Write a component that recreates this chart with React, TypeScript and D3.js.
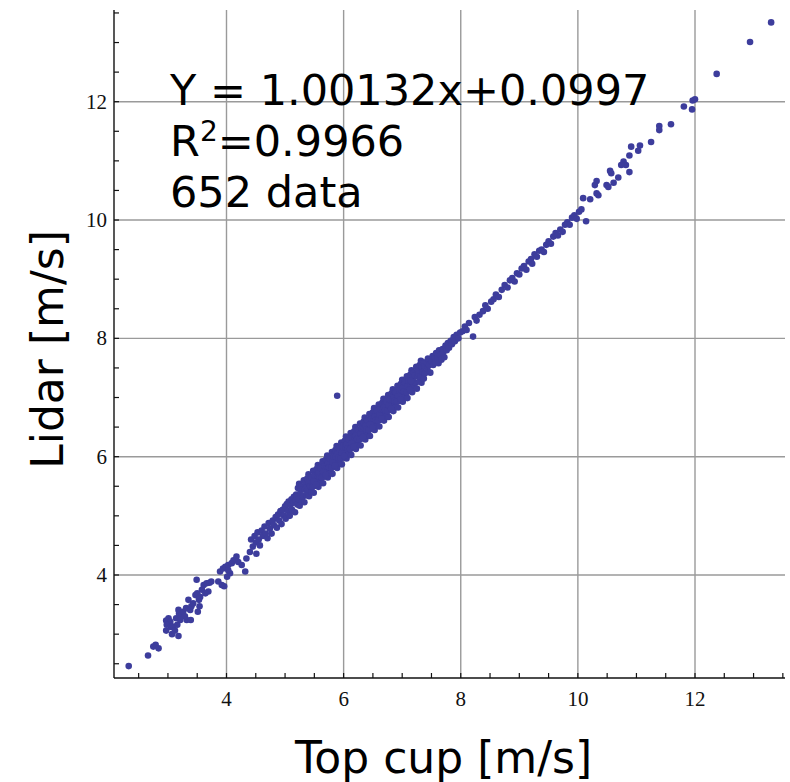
import React from "react";
import * as d3 from "d3";

// ---- data ----
const lowPoints: [number, number][] = [
  [2.33,2.46],[2.66,2.64],[2.75,2.79],[2.79,2.82],[2.84,2.76],
  [2.97,3.23],[3.01,3.27],[3.04,3.21],[2.98,3.16],[3.05,3.12],[3.09,3.13],[3.16,3.16],[3.18,2.97],[3.07,3.00],[2.97,3.06],
  [3.14,3.27],[3.19,3.35],[3.18,3.41],[3.23,3.32],[3.26,3.38],[3.31,3.44],[3.35,3.58],[3.32,3.24],[3.29,3.30],[3.38,3.41],
  [3.40,3.47],[3.43,3.52],[3.47,3.66],[3.50,3.69],[3.49,3.92],[3.53,3.58],[3.55,3.63],[3.58,3.75],[3.61,3.83],[3.66,3.86],
  [3.69,3.72],[3.71,3.87],[3.74,3.89],[3.64,3.69],[3.51,3.38],[3.54,3.47],[3.39,3.24],[3.21,3.24],[3.12,3.06],[3.86,3.89],
  [3.92,3.83],[3.96,3.81],[3.89,4.06],[3.94,4.11],[3.98,4.14],[4.03,4.17],[4.06,4.03],[4.09,4.20],[4.12,4.25],[4.17,4.31],
  [4.20,4.22],[4.26,4.17],[4.32,4.06],[4.34,4.28],[4.40,4.39],[4.51,4.36],[4.01,3.97],[4.03,4.08],
];

const midPoints: [number, number][] = [
  [4.42,4.60],[4.45,4.48],[4.48,4.66],[4.50,4.55],[4.53,4.72],[4.55,4.60],[4.57,4.50],[4.60,4.75],[4.62,4.66],[4.65,4.82],
  [4.67,4.70],[4.70,4.62],[4.72,4.88],[4.74,4.78],[4.77,4.70],[4.79,4.92],[4.81,4.84],[4.84,4.98],[4.86,4.80],[4.88,5.02],
  [4.90,4.92],[4.92,5.08],[4.94,4.86],[4.96,5.10],[4.98,5.00],[5.00,5.16],[5.01,4.95],[5.03,5.20],[5.05,5.08],[5.06,5.24],
  [5.08,5.00],[5.09,5.18],[5.11,5.28],[5.12,5.10],[5.14,5.22],[5.15,5.32],[5.17,5.06],[5.18,5.26],[5.19,5.36],
];

const densePoints: [number, number][] = [
  [5.20,5.32],[5.21,5.19],[5.22,5.47],[5.23,5.28],[5.24,5.54],[5.25,5.17],[5.26,5.44],[5.27,5.35],[5.28,5.50],[5.29,5.24],
  [5.30,5.45],[5.31,5.33],[5.32,5.60],[5.33,5.23],[5.34,5.44],[5.35,5.55],[5.36,5.48],[5.37,5.35],[5.38,5.63],[5.39,5.44],
  [5.40,5.70],[5.41,5.33],[5.42,5.60],[5.43,5.51],[5.44,5.66],[5.45,5.40],[5.46,5.61],[5.47,5.49],[5.48,5.76],[5.49,5.39],
  [5.50,5.60],[5.51,5.71],[5.52,5.64],[5.53,5.51],[5.54,5.79],[5.55,5.60],[5.56,5.86],[5.57,5.49],[5.58,5.76],[5.59,5.67],
  [5.60,5.82],[5.61,5.56],[5.62,5.77],[5.63,5.65],[5.64,5.92],[5.65,5.55],[5.66,5.76],[5.67,5.87],[5.68,5.80],[5.69,5.67],
  [5.70,5.95],[5.71,5.76],[5.72,6.02],[5.73,5.65],[5.74,5.92],[5.75,5.83],[5.76,5.98],[5.77,5.72],[5.78,5.93],[5.79,5.81],
  [5.80,6.08],[5.81,5.71],[5.82,5.92],[5.83,6.03],[5.84,5.96],[5.85,5.83],[5.86,6.11],[5.87,5.92],[5.88,6.18],[5.89,5.81],
  [5.90,6.08],[5.91,5.99],[5.92,6.14],[5.93,5.88],[5.94,6.09],[5.95,5.97],[5.96,6.24],[5.97,5.87],[5.98,6.08],[5.99,6.19],
  [6.00,6.12],[6.01,5.99],[6.02,6.27],[6.03,6.08],[6.04,6.34],[6.05,5.97],[6.06,6.24],[6.07,6.15],[6.08,6.30],[6.09,6.04],
  [6.10,6.25],[6.11,6.13],[6.12,6.40],[6.13,6.03],[6.14,6.24],[6.15,6.35],[6.16,6.28],[6.17,6.15],[6.18,6.43],[6.19,6.24],
  [6.20,6.50],[6.21,6.13],[6.22,6.40],[6.23,6.31],[6.24,6.46],[6.25,6.20],[6.26,6.41],[6.27,6.29],[6.28,6.56],[6.29,6.19],
  [6.30,6.40],[6.31,6.51],[6.32,6.44],[6.33,6.31],[6.34,6.59],[6.35,6.40],[6.36,6.66],[6.37,6.29],[6.38,6.56],[6.39,6.47],
  [6.40,6.62],[6.41,6.36],[6.42,6.57],[6.43,6.45],[6.44,6.72],[6.45,6.35],[6.46,6.56],[6.47,6.67],[6.48,6.60],[6.49,6.47],
  [6.50,6.75],[6.51,6.56],[6.52,6.82],[6.53,6.45],[6.54,6.72],[6.55,6.63],[6.56,6.78],[6.57,6.52],[6.58,6.73],[6.59,6.61],
  [6.60,6.88],[6.61,6.51],[6.62,6.72],[6.63,6.83],[6.64,6.76],[6.65,6.63],[6.66,6.91],[6.67,6.72],[6.68,6.98],[6.69,6.61],
  [6.70,6.88],[6.71,6.79],[6.72,6.94],[6.73,6.68],[6.74,6.89],[6.75,6.77],[6.76,7.04],[6.77,6.67],[6.78,6.88],[6.79,6.99],
  [6.80,6.92],[6.81,6.79],[6.82,7.07],[6.83,6.88],[6.84,7.14],[6.85,6.77],[6.86,7.04],[6.87,6.95],[6.88,7.10],[6.89,6.84],
  [6.90,7.05],[6.91,6.93],[6.92,7.20],[6.93,6.83],[6.94,7.04],[6.95,7.15],[6.96,7.08],[6.97,6.95],[6.98,7.23],[6.99,7.04],
  [7.00,7.30],[7.01,6.93],[7.02,7.20],[7.03,7.11],[7.04,7.26],[7.05,7.00],[7.06,7.21],[7.07,7.09],[7.08,7.36],[7.09,6.99],
  [7.10,7.20],[7.11,7.31],[7.12,7.24],[7.13,7.11],[7.14,7.39],[7.15,7.20],[7.16,7.46],[7.17,7.09],[7.18,7.36],[7.19,7.27],
  [7.20,7.42],[7.21,7.16],[7.22,7.37],[7.23,7.25],[7.24,7.52],[7.25,7.15],[7.26,7.36],[7.27,7.47],[7.28,7.40],[7.29,7.27],
  [7.30,7.55],[7.31,7.36],[7.32,7.62],[7.33,7.25],[7.34,7.52],[7.35,7.43],[7.36,7.58],[7.37,7.32],[7.38,7.53],[7.39,7.41],
];

const coreBand: [number, number][] = [
  [5.41,5.56],[5.43,5.50],[5.45,5.65],[5.47,5.49],[5.49,5.59],[5.51,5.68],[5.53,5.53],[5.55,5.68],[5.57,5.72],[5.59,5.66],
  [5.61,5.81],[5.63,5.65],[5.65,5.75],[5.67,5.84],[5.69,5.69],[5.71,5.84],[5.73,5.88],[5.75,5.82],[5.77,5.97],[5.79,5.81],
  [5.81,5.91],[5.83,6.00],[5.85,5.85],[5.87,6.00],[5.89,6.04],[5.91,5.98],[5.93,6.13],[5.95,5.97],[5.97,6.07],[5.99,6.16],
  [6.01,6.01],[6.03,6.16],[6.05,6.20],[6.07,6.14],[6.09,6.29],[6.11,6.13],[6.13,6.23],[6.15,6.32],[6.17,6.17],[6.19,6.32],
  [6.21,6.36],[6.23,6.30],[6.25,6.45],[6.27,6.29],[6.29,6.39],[6.31,6.48],[6.33,6.33],[6.35,6.48],[6.37,6.52],[6.39,6.46],
  [6.41,6.61],[6.43,6.45],[6.45,6.55],[6.47,6.64],[6.49,6.49],[6.51,6.64],[6.53,6.68],[6.55,6.62],[6.57,6.77],[6.59,6.61],
  [6.61,6.71],[6.63,6.80],[6.65,6.65],[6.67,6.80],[6.69,6.84],[6.71,6.78],[6.73,6.93],[6.75,6.77],[6.77,6.87],[6.79,6.96],
  [6.81,6.81],[6.83,6.96],[6.85,7.00],[6.87,6.94],[6.89,7.09],[6.91,6.93],[6.93,7.03],[6.95,7.12],[6.97,6.97],[6.99,7.12],
  [7.01,7.16],[7.03,7.10],[7.05,7.25],[7.07,7.09],[7.09,7.19],[7.11,7.28],[7.13,7.13],[7.15,7.28],
  [5.89,7.03],
];

const upperPoints: [number, number][] = [
  [7.41,7.60],[7.43,7.48],[7.44,7.66],[7.46,7.55],[7.48,7.42],[7.50,7.62],[7.52,7.70],[7.53,7.55],[7.55,7.68],[7.57,7.60],
  [7.58,7.75],[7.60,7.66],[7.62,7.58],[7.63,7.80],[7.65,7.72],[7.67,7.64],[7.69,7.82],[7.70,7.76],[7.72,7.68],[7.74,7.88],
  [7.76,7.80],[7.78,7.92],[7.80,7.84],[7.83,7.96],[7.85,7.90],[7.88,8.02],[7.90,7.95],[7.93,8.06],[7.96,8.00],[7.99,8.10],
  [8.03,8.12],[8.07,8.20],[8.10,8.14],[8.14,8.26],[8.21,8.03],[8.24,8.36],[8.27,8.30],[8.32,8.40],[8.38,8.46],[8.42,8.56],
  [8.46,8.50],[8.52,8.62],[8.56,8.66],[8.60,8.74],[8.65,8.70],[8.70,8.82],[8.75,8.90],[8.80,8.86],[8.84,8.98],[8.88,9.02],
  [8.92,8.96],[8.96,9.10],[9.00,9.08],[9.04,9.18],[9.08,9.22],[9.12,9.16],[9.16,9.30],[9.20,9.34],[9.22,9.26],[9.26,9.42],
  [9.30,9.38],[9.34,9.48],[9.38,9.50],[9.42,9.46],[9.46,9.58],[9.50,9.64],[9.54,9.60],[9.58,9.72],[9.62,9.78],[9.66,9.74],
  [9.70,9.84],[9.74,9.80],[9.78,9.92],[9.82,9.96],[9.86,9.92],[9.90,10.04],[9.94,10.08],[9.98,10.02],[10.02,10.14],[10.06,10.18],
  [10.14,9.98],
];

const highPoints: [number, number][] = [
  [13.30,13.34],[12.94,13.01],[12.37,12.47],[12.00,12.04],[11.96,12.02],[11.81,11.92],[11.95,11.87],[11.59,11.62],
  [11.39,11.59],[11.39,11.52],[11.25,11.32],[11.06,11.26],[11.03,11.17],[10.91,11.24],[10.88,11.09],[10.88,10.81],
  [10.78,10.99],[10.82,10.93],[10.74,10.93],[10.69,10.72],[10.55,10.83],[10.57,10.79],[10.61,10.63],[10.49,10.59],
  [10.52,10.56],[10.32,10.66],[10.29,10.59],[10.35,10.42],[10.32,10.45],[10.09,10.37],[10.21,10.35],
];

const xTicks = [4, 6, 8, 10, 12];
const yTicks = [4, 6, 8, 10, 12];
const xMinor = d3.range(2.5, 13.51, 0.5);
const yMinor = d3.range(2.5, 13.51, 0.5);
const equationLine = "Y = 1.00132x+0.0997";
const r2Value = "=0.9966";
const countLine = "652 data";
const xTitle = "Top cup [m/s]";
const yTitle = "Lidar [m/s]";

export default function App() {
  const x = d3.scaleLinear().domain([4, 12]).range([226.5, 695]);
  const y = d3.scaleLinear().domain([4, 12]).range([575, 101.7]);
  const left = 114, bottom = 678, top = 10, right = 785;
  const all = [...lowPoints, ...midPoints, ...densePoints, ...coreBand, ...upperPoints, ...highPoints];
  const grid = "#9a9a9a";
  const font = "DejaVu Sans";
  return (
    <svg width={790} height={782} style={{ position: "absolute", left: 0, top: 0, background: "#fff" }}>
      <rect x={0} y={0} width={790} height={782} fill="#fff" />
      {xTicks.map((t) => (
        <line key={"gx" + t} x1={x(t)} x2={x(t)} y1={bottom} y2={top} stroke={grid} strokeWidth={1.4} />
      ))}
      {yTicks.map((t) => (
        <line key={"gy" + t} x1={left} x2={right} y1={y(t)} y2={y(t)} stroke={grid} strokeWidth={1.4} />
      ))}
      {all.map((p, i) => (
        <circle key={i} cx={x(p[0])} cy={y(p[1])} r={3.3} fill="#3d3d9c" />
      ))}
      <line x1={left} x2={left} y1={top} y2={bottom} stroke="#111" strokeWidth={1.4} />
      <line x1={left} x2={right} y1={bottom} y2={bottom} stroke="#111" strokeWidth={1.4} />
      {xMinor.map((t) => (
        <line key={"mx" + t} x1={x(t)} x2={x(t)} y1={bottom} y2={bottom - 5} stroke="#111" strokeWidth={1.2} />
      ))}
      {yMinor.map((t) => (
        <line key={"my" + t} x1={left} x2={left + 5} y1={y(t)} y2={y(t)} stroke="#111" strokeWidth={1.2} />
      ))}
      {xTicks.map((t) => (
        <text key={"lx" + t} x={x(t)} y={706} textAnchor="middle" fontFamily="Liberation Serif" fontSize={21} fill="#111">
          {t}
        </text>
      ))}
      {yTicks.map((t) => (
        <text key={"ly" + t} x={107} y={y(t) + 7} textAnchor="end" fontFamily="Liberation Serif" fontSize={21} fill="#111">
          {t}
        </text>
      ))}
      <text x={170} y={105} fontFamily={font} fontSize={43} fill="#000">{equationLine}</text>
      <text x={170} y={156} fontFamily={font} fontSize={43} fill="#000">
        R<tspan fontSize={28} dy={-15}>2</tspan><tspan dy={15}>{r2Value}</tspan>
      </text>
      <text x={170} y={207} fontFamily={font} fontSize={43} fill="#000">{countLine}</text>
      <text x={443.5} y={773} textAnchor="middle" fontFamily={font} fontSize={44} fill="#000">
        {xTitle}
      </text>
      <text transform="translate(63,349.5) rotate(-90)" textAnchor="middle" fontFamily={font} fontSize={44} fill="#000">
        {yTitle}
      </text>
    </svg>
  );
}
